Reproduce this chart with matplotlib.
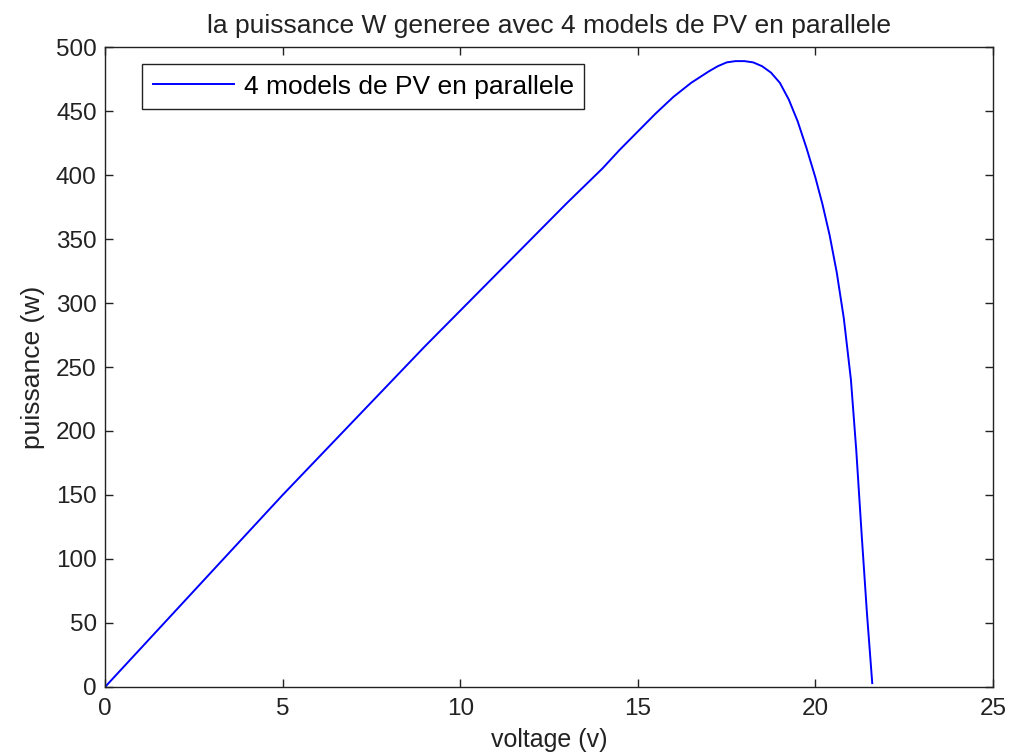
import matplotlib
matplotlib.use("Agg")
import matplotlib.pyplot as plt

voltage = [0, 1, 2, 3, 4, 5, 6, 7, 8, 9, 10, 11, 12, 13, 14, 14.5, 15, 15.5, 16,
           16.5, 17, 17.25, 17.5, 17.75, 18, 18.25, 18.5, 18.75, 19, 19.25,
           19.5, 19.75, 20, 20.2, 20.4, 20.6, 20.8, 21, 21.15, 21.3, 21.45, 21.6]
power = [0, 30, 60, 90, 120, 150, 179, 208, 237, 266, 294, 322, 350, 378, 405,
         420, 434, 448, 461, 472, 481, 485, 488, 489, 489, 488, 485, 480, 472,
         459, 442, 421, 398, 377, 353, 324, 288, 240, 185, 120, 58, 3]

xticks = [0, 5, 10, 15, 20, 25]
yticks = [0, 50, 100, 150, 200, 250, 300, 350, 400, 450, 500]

plt.rcParams['font.family'] = ['Liberation Sans', 'DejaVu Sans']
fig = plt.figure(figsize=(10.11, 7.55), dpi=100)
ax = fig.add_axes([0.1039, 0.0901, 0.8783, 0.8476])

ax.plot(voltage, power, color='#0000ff', lw=1.4, label='4 models de PV en parallele')
ax.set_xlim(0, 25)
ax.set_ylim(0, 500)
ax.set_xticks(xticks)
ax.set_yticks(yticks)
ax.tick_params(direction='in', length=6, width=1, top=True, right=True,
               labelsize=17.5, colors='#222222')
ax.tick_params(axis='x', pad=8)
ax.tick_params(axis='y', pad=6)
for s in ax.spines.values():
    s.set_color('#222222')
    s.set_linewidth(1)
ax.set_title('la puissance W generee avec 4 models de PV en parallele',
             fontsize=19, color='#222222', pad=10)
ax.set_xlabel('voltage (v)', fontsize=18, color='#222222', labelpad=6)
ax.set_ylabel('puissance (w)', fontsize=19, color='#222222', labelpad=8)
leg = ax.legend(loc='upper left', fontsize=19, fancybox=False, framealpha=1,
                edgecolor='#222222', borderpad=0.4, handlelength=3.1,
                handletextpad=0.35, borderaxespad=0,
                bbox_to_anchor=(0.0417, 0.9734))
leg.get_frame().set_linewidth(1)
fig.savefig('out.png', dpi=100)
